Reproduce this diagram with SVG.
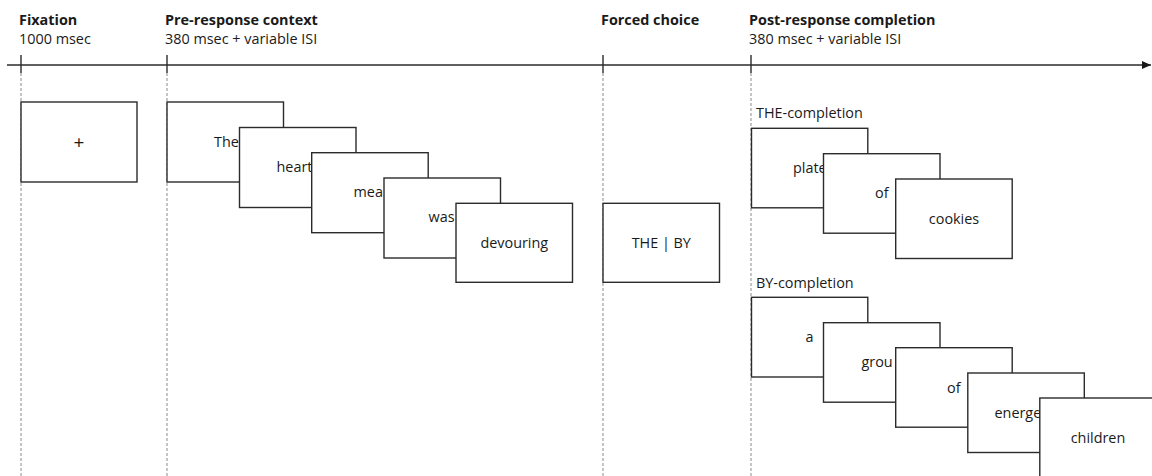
<svg xmlns="http://www.w3.org/2000/svg" width="1152" height="476" viewBox="0 0 1152 476">
<style>
text{font-family:"Open Sans","Noto Sans",sans-serif;font-size:14.4px;fill:#1a1a1a}
.b{font-weight:bold}
.m{text-anchor:middle}
.box{fill:#fff;stroke:#2b2b2b;stroke-width:1.4}
.tick{stroke:#2b2b2b;stroke-width:1.4}
.dash{stroke:#8a8a8a;stroke-width:1;stroke-dasharray:3 2;fill:none}
</style>
<defs>
<marker id="arr" markerWidth="10" markerHeight="10" refX="9" refY="5" orient="auto" markerUnits="userSpaceOnUse">
<path d="M0,1 L9,5 L0,9 Z" fill="#1a1a1a"/>
</marker>
</defs>
<rect width="1152" height="476" fill="#fff"/>
<g id="headers">
<text class="b" x="19" y="25">Fixation</text>
<text x="19" y="44">1000 msec</text>
<text class="b" x="165" y="25">Pre-response context</text>
<text x="165" y="44">380 msec + variable ISI</text>
<text class="b" x="601" y="25">Forced choice</text>
<text class="b" x="749" y="25">Post-response completion</text>
<text x="749" y="44">380 msec + variable ISI</text>
</g>
<g id="connectors">
<line x1="7" y1="65" x2="1151" y2="65" stroke="#2b2b2b" stroke-width="1.5" marker-end="url(#arr)"/>
<line class="tick" x1="21" y1="55" x2="21" y2="73"/>
<line class="tick" x1="167" y1="55" x2="167" y2="73"/>
<line class="tick" x1="603" y1="55" x2="603" y2="73"/>
<line class="tick" x1="751" y1="55" x2="751" y2="73"/>
<line class="dash" x1="21" y1="73" x2="21" y2="476"/>
<line class="dash" x1="167" y1="73" x2="167" y2="476"/>
<line class="dash" x1="603" y1="73" x2="603" y2="476"/>
<line class="dash" x1="751" y1="73" x2="751" y2="476"/>
</g>
<g id="fixation">
<rect class="box" x="21" y="102" width="116" height="80"/>
<text class="m" x="79" y="148.5" style="font-size:19px">+</text>
</g>
<g id="pre-response">
<rect class="box" x="167" y="102" width="116.5" height="80"/>
<text x="214" y="147">The</text>
<rect class="box" x="239.5" y="127.5" width="116.5" height="80"/>
<text x="276.5" y="172">heart</text>
<rect class="box" x="311.7" y="152.7" width="116.5" height="80"/>
<text x="353.5" y="197">mea</text>
<rect class="box" x="384" y="178" width="116.5" height="80"/>
<text x="428.5" y="222">was</text>
<rect class="box" x="456" y="203.3" width="116.5" height="79"/>
<text class="m" x="514.3" y="247.5">devouring</text>
</g>
<g id="forced-choice">
<rect class="box" x="603" y="203.3" width="116.5" height="79"/>
<text class="m" x="661.3" y="247.5">THE | BY</text>
</g>
<g id="the-completion">
<text x="756" y="118">THE-completion</text>
<rect class="box" x="751.5" y="128.3" width="116.3" height="79.5"/>
<text x="793" y="173">plate</text>
<rect class="box" x="823.5" y="153.7" width="116.5" height="79.5"/>
<text x="875" y="198">of</text>
<rect class="box" x="895.7" y="179" width="116.5" height="79.5"/>
<text class="m" x="954" y="223.5">cookies</text>
</g>
<g id="by-completion">
<text x="756" y="288">BY-completion</text>
<rect class="box" x="751.5" y="297.3" width="116.3" height="79.7"/>
<text x="805.5" y="342">a</text>
<rect class="box" x="823.5" y="322.7" width="116.5" height="79.5"/>
<text x="861.5" y="367">grou</text>
<rect class="box" x="895.7" y="347.7" width="116.5" height="79.5"/>
<text x="947" y="392.5">of</text>
<rect class="box" x="967.8" y="373" width="116.5" height="79.5"/>
<text x="994.5" y="418">energe</text>
<rect class="box" x="1039.8" y="398" width="116.5" height="80"/>
<text class="m" x="1098" y="442.5">children</text>
</g>
</svg>
